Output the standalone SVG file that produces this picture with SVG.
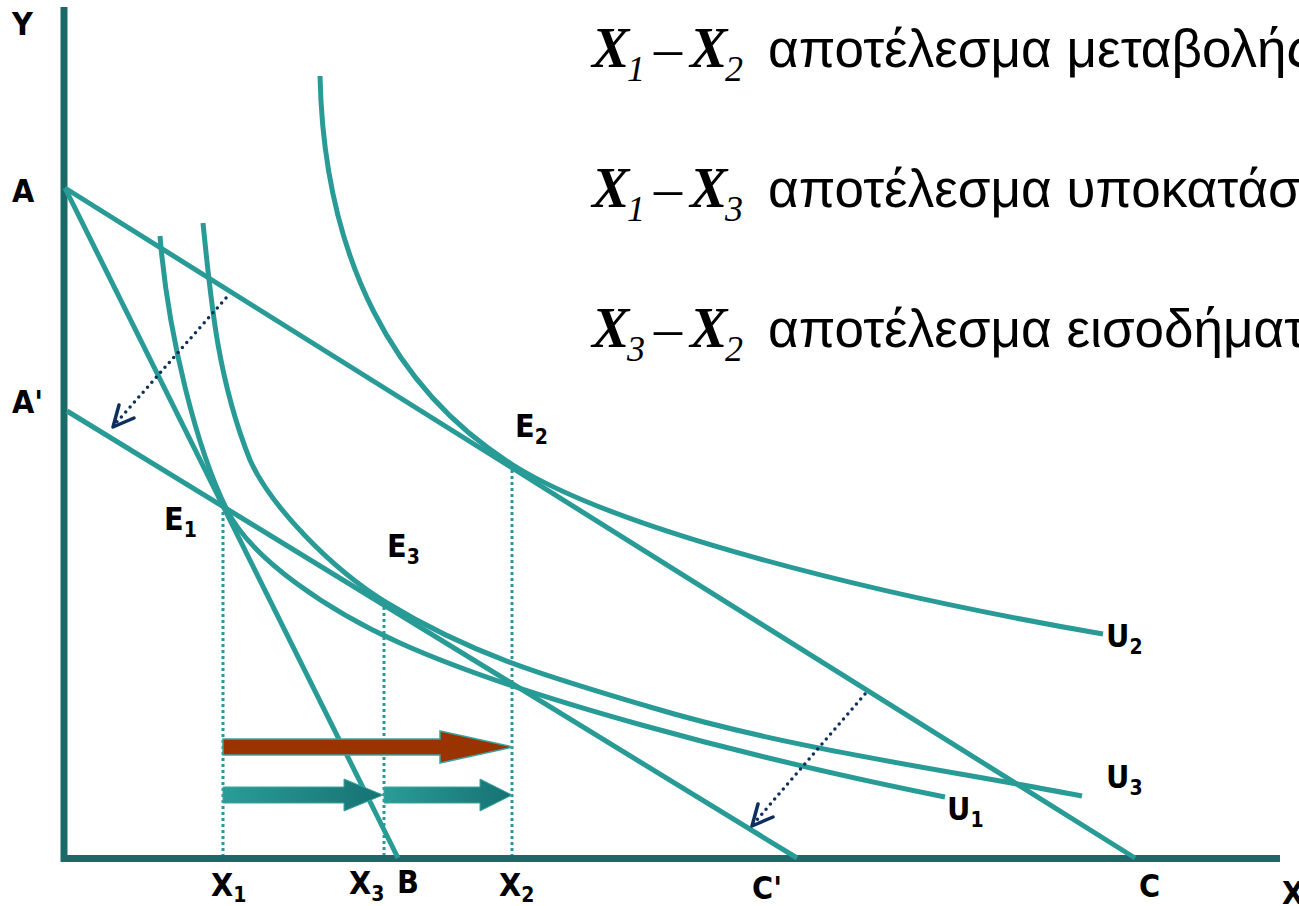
<svg xmlns="http://www.w3.org/2000/svg" width="1299" height="906" viewBox="0 0 1299 906">
<style>
.ax{fill:none;stroke:#1b6a68;stroke-width:7;stroke-linejoin:miter}
.ln{fill:none;stroke:#299b97;stroke-width:5;stroke-linecap:butt}
.gd{fill:none;stroke:#299b97;stroke-width:3;stroke-dasharray:3 3}
.dt{fill:none;stroke:#0c2f5e;stroke-width:3.5;stroke-linecap:round;stroke-dasharray:0 6.6}
.hd{fill:none;stroke:#0c2f5e;stroke-width:3.5;stroke-linecap:round;stroke-linejoin:round}
.lb{font-family:"DejaVu Sans Condensed","DejaVu Sans",sans-serif;font-weight:bold;font-size:32px;fill:#000}
.sb{font-size:21px}
.tx{font-family:"Liberation Serif",serif;font-weight:bold;font-style:italic;font-size:56px;fill:#000}
.ts{font-family:"Liberation Serif",serif;font-style:italic;font-size:36px;fill:#000}
.td{font-family:"Liberation Serif",serif;font-size:56px;fill:#000}
.gr{font-family:"Liberation Sans",sans-serif;font-size:53px;fill:#000}
</style>
<defs>
<linearGradient id="tg" x1="0" y1="0" x2="1" y2="0">
<stop offset="0" stop-color="#2a9c98"/>
<stop offset="1" stop-color="#167272"/>
</linearGradient>
</defs>
<g id="axes">
<path class="ax" d="M64,7 V858.5 H1280"/>
</g>
<g id="connectors">
<g id="budget-lines">
<line class="ln" x1="65" y1="188" x2="1135" y2="858"/>
<line class="ln" x1="65" y1="188" x2="398" y2="858"/>
<line class="ln" x1="67" y1="411" x2="797" y2="858"/>
</g>
<g id="curves">
<path id="U1-curve" class="ln" d="M160,236 C168,336 197,450 227,510 C252,560 330,611.5 400,643 C520,697 745,757 945,797"/>
<path id="U3-curve" class="ln" d="M203,223 C211,303 218,380 250,460 C270,505 330,568 387,603 C477,658 560,680 650,707 C790,749 942,769 1082,796"/>
<path id="U2-curve" class="ln" d="M320,76 C324,260 395,391 513,465 C613,528 860,592 1103,634"/>
</g>
<g id="guides">
<line class="gd" x1="223" y1="512" x2="223" y2="855"/>
<line class="gd" x1="384" y1="607" x2="384" y2="855"/>
<line class="gd" x1="512" y1="470" x2="512" y2="855"/>
</g>
<g id="shift-arrows">
<line class="dt" x1="226" y1="298" x2="116" y2="423"/>
<polyline class="hd" points="119,405 113,427 134,418"/>
<line class="dt" x1="865" y1="694" x2="755" y2="822"/>
<polyline class="hd" points="758,804 752,826 773,817"/>
</g>
<g id="effect-arrows">
<polygon points="223,739 440,739 440,731 513,747 440,763 440,755 223,755" fill="#993300" stroke="#3aa5a0" stroke-width="1.5"/>
<polygon points="223,787 344,787 344,779 383,795 344,811 344,803 223,803" fill="url(#tg)" stroke="#3aa5a0" stroke-width="1"/>
<polygon points="384,787 480,787 480,779 512,795 480,811 480,803 384,803" fill="url(#tg)" stroke="#3aa5a0" stroke-width="1"/>
</g>
</g>
<g id="labels">
<text id="lbl-Y" class="lb" x="12" y="35">Y</text>
<text id="lbl-A" class="lb" x="12" y="202">A</text>
<text id="lbl-A2" class="lb" x="12" y="413">A'</text>
<text id="lbl-E1" class="lb" x="164" y="530">E<tspan class="sb" dy="7">1</tspan></text>
<text id="lbl-E2" class="lb" x="515" y="437">E<tspan class="sb" dy="7">2</tspan></text>
<text id="lbl-E3" class="lb" x="387" y="557">E<tspan class="sb" dy="7">3</tspan></text>
<text id="lbl-U2" class="lb" x="1106" y="647">U<tspan class="sb" dy="7">2</tspan></text>
<text id="lbl-U3" class="lb" x="1106" y="788">U<tspan class="sb" dy="7">3</tspan></text>
<text id="lbl-U1" class="lb" x="947" y="820">U<tspan class="sb" dy="7">1</tspan></text>
<text id="lbl-X1" class="lb" x="211" y="896">X<tspan class="sb" dy="6">1</tspan></text>
<text id="lbl-X3" class="lb" x="349" y="894">X<tspan class="sb" dy="7">3</tspan></text>
<text id="lbl-B" class="lb" x="397" y="893">B</text>
<text id="lbl-X2" class="lb" x="499" y="896">X<tspan class="sb" dy="6">2</tspan></text>
<text id="lbl-C2" class="lb" x="752" y="899">C'</text>
<text id="lbl-C" class="lb" x="1139" y="897">C</text>
<text id="lbl-X" class="lb" x="1282" y="904">X</text>
</g>
<g id="legend">
<text id="leg1"><tspan class="tx" x="592" y="67">X</tspan><tspan class="ts" x="627" y="81">1</tspan><tspan class="td" x="654" y="67">–</tspan><tspan class="tx" x="690" y="67">X</tspan><tspan class="ts" x="725" y="81">2</tspan><tspan class="gr" x="768" y="67">αποτέλεσμα μεταβολής</tspan></text>
<text id="leg2"><tspan class="tx" x="592" y="207">X</tspan><tspan class="ts" x="627" y="221">1</tspan><tspan class="td" x="654" y="207">–</tspan><tspan class="tx" x="690" y="207">X</tspan><tspan class="ts" x="725" y="221">3</tspan><tspan class="gr" x="768" y="207">αποτέλεσμα υποκατάστασης</tspan></text>
<text id="leg3"><tspan class="tx" x="592" y="347">X</tspan><tspan class="ts" x="627" y="361">3</tspan><tspan class="td" x="654" y="347">–</tspan><tspan class="tx" x="690" y="347">X</tspan><tspan class="ts" x="725" y="361">2</tspan><tspan class="gr" x="768" y="347">αποτέλεσμα εισοδήματος</tspan></text>
</g>
</svg>
